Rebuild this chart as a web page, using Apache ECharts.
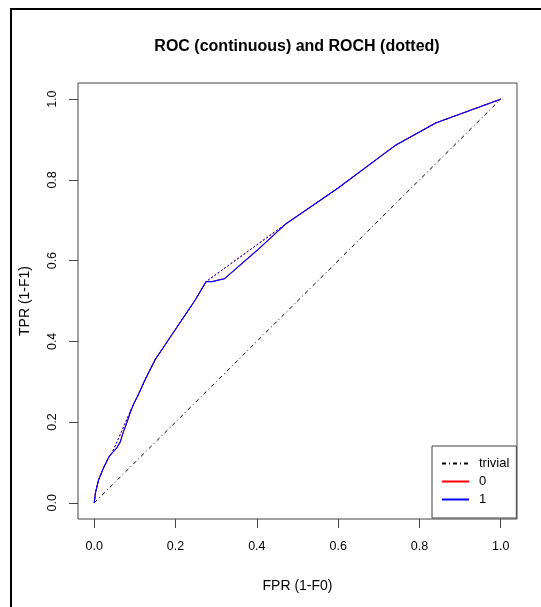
<!DOCTYPE html>
<html>
<head>
<meta charset="utf-8">
<script src="https://cdn.jsdelivr.net/npm/echarts@6/dist/echarts.min.js"></script>
<style>html,body{margin:0;padding:0;background:#fff;}#c{width:541px;height:607px;}</style>
</head>
<body>
<div id="c"></div>
<script>
// ---- data ----
const tickValues = [0, 0.2, 0.4, 0.6, 0.8, 1.0];
const rocFpr = [0, 0.003, 0.011, 0.023, 0.035, 0.044, 0.05, 0.056, 0.064, 0.071, 0.080, 0.089, 0.096, 0.108, 0.125, 0.15, 0.2, 0.25, 0.275, 0.29, 0.31, 0.32, 0.4, 0.47, 0.6, 0.74, 0.84, 1.0];
const rocTpr = [0, 0.025, 0.058, 0.087, 0.112, 0.124, 0.13, 0.137, 0.151, 0.174, 0.198, 0.225, 0.243, 0.267, 0.305, 0.355, 0.43, 0.505, 0.548, 0.548, 0.553, 0.555, 0.625, 0.69, 0.78, 0.885, 0.941, 1.0];
const hullFpr = [0, 0.003, 0.011, 0.023, 0.035, 0.044, 0.096, 0.108, 0.125, 0.15, 0.2, 0.25, 0.275, 0.47, 0.6, 0.74, 0.84, 1.0];
const hullTpr = [0, 0.025, 0.058, 0.087, 0.112, 0.124, 0.243, 0.267, 0.305, 0.355, 0.43, 0.505, 0.548, 0.69, 0.78, 0.885, 0.941, 1.0];
const trivialFpr = [0, 1];
const trivialTpr = [0, 1];
const legendNames = ['trivial', '0', '1'];

const zip = (a, b) => a.map((v, i) => [v, b[i]]);
const font = '"Liberation Sans", Arial, sans-serif';

const chart = echarts.init(document.getElementById('c'), null, {renderer: 'canvas'});
chart.setOption({
  animation: false,
  backgroundColor: '#fff',
  title: {
    text: 'ROC (continuous) and ROCH (dotted)',
    left: 297, top: 39, padding: 0, textAlign: 'center',
    textStyle: {fontFamily: font, fontSize: 16, fontWeight: 'bold', color: '#000'}
  },
  graphic: [{
    type: 'rect', silent: true,
    shape: {x: 11, y: 9, width: 600, height: 700},
    style: {fill: 'none', stroke: '#000', lineWidth: 2}
  }],
  grid: {left: 78, top: 83, right: 24, bottom: 88, show: true, borderColor: '#444', borderWidth: 1, backgroundColor: 'transparent'},
  xAxis: {
    type: 'value', min: -0.04, max: 1.04,
    name: 'FPR (1-F0)', nameLocation: 'middle', nameGap: 60,
    nameTextStyle: {fontFamily: font, fontSize: 14, color: '#000'},
    axisLine: {show: false, onZero: false},
    splitLine: {show: false},
    axisTick: {show: true, inside: false, length: 9, customValues: tickValues, lineStyle: {color: '#444'}},
    axisLabel: {customValues: tickValues, margin: 21, fontFamily: font, fontSize: 12.5, color: '#000', formatter: v => v.toFixed(1)}
  },
  yAxis: {
    type: 'value', min: -0.04, max: 1.04,
    name: 'TPR (1-F1)', nameLocation: 'middle', nameGap: 46,
    nameTextStyle: {fontFamily: font, fontSize: 14, color: '#000'},
    axisLine: {show: false, onZero: false},
    splitLine: {show: false},
    axisTick: {show: true, inside: false, length: 9, customValues: tickValues, lineStyle: {color: '#444'}},
    axisLabel: {customValues: tickValues, margin: 19, rotate: 90, fontFamily: font, fontSize: 12.5, color: '#000', formatter: v => v.toFixed(1)}
  },
  legend: {
    data: legendNames,
    orient: 'vertical', left: 432, top: 446,
    padding: [11, 7, 12, 9], itemGap: 5, itemWidth: 27, itemHeight: 14,
    backgroundColor: '#fff', borderColor: '#444', borderWidth: 1, borderRadius: 0,
    itemStyle: {opacity: 0},
    textStyle: {fontFamily: font, fontSize: 13, color: '#000', padding: [0, 0, 0, 5]}
  },
  series: [
    {name: 'trivial', type: 'line', data: zip(trivialFpr, trivialTpr), showSymbol: false, symbol: 'none',
     lineStyle: {color: '#000', width: 1, type: [4, 3, 1, 3]}, itemStyle: {color: '#000'}},
    {name: '0', type: 'line', data: zip(rocFpr, rocTpr), showSymbol: false, symbol: 'none',
     lineStyle: {color: '#ff0000', width: 1}, itemStyle: {color: '#ff0000'}},
    {name: 'ROCH0', type: 'line', data: zip(hullFpr, hullTpr), showSymbol: false, symbol: 'none',
     lineStyle: {color: '#ff0000', width: 1, type: [2, 2]}},
    {name: '1', type: 'line', data: zip(rocFpr, rocTpr), showSymbol: false, symbol: 'none',
     lineStyle: {color: '#0000ff', width: 1.1}, itemStyle: {color: '#0000ff'}},
    {name: 'ROCH1', type: 'line', data: zip(hullFpr, hullTpr), showSymbol: false, symbol: 'none',
     lineStyle: {color: '#0000ff', width: 1, type: [2, 2]}}
  ]
});
</script>
</body>
</html>
